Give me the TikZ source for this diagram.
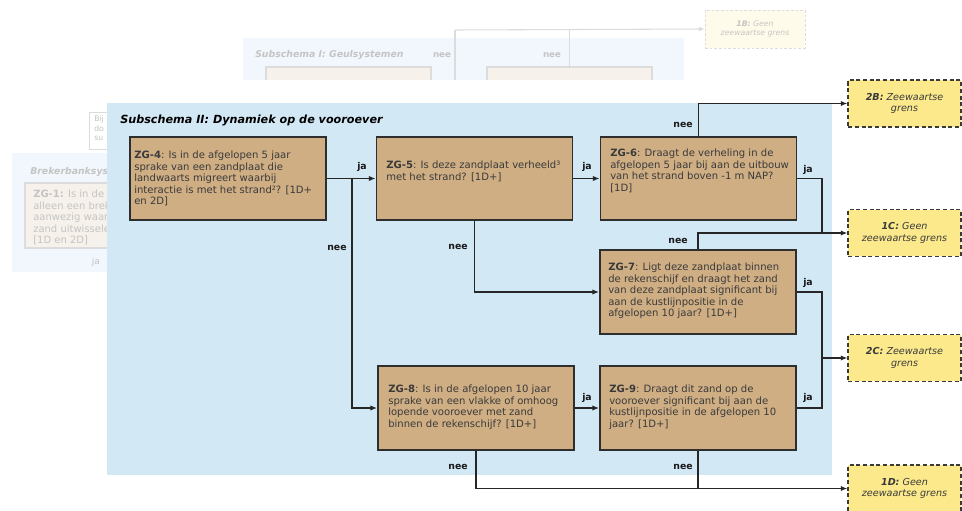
\documentclass[tikz,border=0pt]{standalone}
\usepackage{fontspec}
\setmainfont{DejaVu Sans}
\usetikzlibrary{arrows.meta}
\definecolor{panelblue}{HTML}{D3E8F5}
\definecolor{boxtan}{HTML}{CFAE84}
\definecolor{boxline}{HTML}{2E2E2E}
\definecolor{endyellow}{HTML}{FBE98C}
\definecolor{endline}{HTML}{3A3A3A}
\definecolor{textgray}{HTML}{3A3A3A}
\definecolor{fadeblue}{HTML}{F1F7FC}
\definecolor{fadetan}{HTML}{F6F1EA}
\definecolor{fadeline}{HTML}{DCDCDC}
\definecolor{fadetext}{HTML}{C4C4C4}
\definecolor{fadeyellow}{HTML}{FFFBEA}
\tikzset{
  zg/.style={draw=boxline, fill=boxtan, line width=1.4pt, minimum width=147pt, minimum height=62.5pt, inner sep=0pt},
  zgtext/.style={anchor=north west, inner sep=0pt, align=left, font=\fontsize{7.55}{8.6}\selectfont, text=textgray},
  endbox/.style={draw=endline, dash pattern=on 3pt off 2pt, fill=endyellow, line width=1.1pt, minimum width=84.5pt, minimum height=35pt, inner sep=0pt, align=center, font=\fontsize{7.2}{8.8}\selectfont\itshape, text=textgray},
  lbl/.style={font=\fontsize{7}{8}\selectfont\bfseries, inner sep=0pt, text=black!90},
  conn/.style={line width=1pt, draw=black!85},
  arr/.style={conn, -{Latex[length=5pt,width=4pt]}},
  fadebox/.style={draw=fadeline, fill=fadetan, line width=0.8pt, inner sep=0pt},
  fadetxt/.style={text=fadetext, inner sep=0pt},
  fadeconn/.style={draw=fadeline, line width=0.8pt},
  fadearr/.style={fadeconn, -{Latex[length=4pt,width=3.5pt]}},
  fadeend/.style={draw=fadeline, dash pattern=on 2pt off 1.5pt, fill=fadeyellow, line width=0.7pt, minimum width=75pt, minimum height=28.5pt, inner sep=0pt, align=center, font=\fontsize{5.8}{7}\selectfont\itshape, text=fadetext}
}
\begin{document}
\begin{tikzpicture}[x=0.75pt,y=-0.75pt]
\useasboundingbox (0,0) rectangle (962,510);
\clip (0,0) rectangle (962,510);

% ---------- faded background: Subschema I ----------
\begin{scope}
\clip (0,0) rectangle (962,79);
\fill[fadeblue] (243,38) rectangle (684,100);
\node[fadebox, minimum width=123.75pt, minimum height=30pt] (g1) at (348.5,87) {};
\node[fadebox, minimum width=123.75pt, minimum height=30pt] (g2) at (569.5,87) {};
\coordinate (gbot) at (455,100);
\coordinate (gtop) at (455,30);
\draw[fadeconn] (gbot) -- (gtop);
\draw[fadeconn] (g2.north) -- (g2.north |- gtop);
\end{scope}
\node[fadeend] (e1B) at (755,29) {\textbf{1B:} Geen\\zeewaartse grens};
\draw[fadearr] (gtop) -- (e1B.west);
\node[fadetxt, anchor=west, font=\fontsize{7}{8}\selectfont\bfseries\itshape] (t1) at (255,55) {Subschema I: Geulsystemen};
\node[fadetxt, font=\fontsize{6.5}{8}\selectfont\bfseries] (n1) at (442,55) {nee};
\node[fadetxt, font=\fontsize{6.5}{8}\selectfont\bfseries] (n2) at (552,55) {nee};

% ---------- faded background: left ----------
\fill[white] (89,112) rectangle (130,149);
\draw[fadeline, line width=0.6pt] (89,112) rectangle (130,149);
\node[fadetxt, anchor=north west, align=left, font=\fontsize{5.8}{7.4}\selectfont] (bd) at (94,115) {Bij\\do\\su};
\fill[fadeblue] (12,153) rectangle (130,272);
\node[fadetxt, anchor=west, font=\fontsize{7}{8}\selectfont\bfseries\itshape] (t2) at (30,172) {Brekerbanksystemen};
\node[fadebox, minimum width=78.75pt, minimum height=48.75pt] (zg1) at (77.5,215.5) {};
\node[fadetxt, anchor=north west, align=left, font=\fontsize{7.5}{8.6}\selectfont] (zg1t) at (33,190) {\textbf{ZG-1:} Is in de af\\alleen een breke\\aanwezig waarbij\\zand uitwisselen\\{}[1D en 2D]};
\node[fadetxt, font=\fontsize{6.8}{8}\selectfont] (n3) at (96,262) {ja};

% ---------- main panel ----------
\fill[panelblue] (107,103) rectangle (832,475);
\node[anchor=west, inner sep=0pt, font=\fontsize{8.4}{10}\selectfont\bfseries\itshape] (title) at (120,120) {Subschema II: Dynamiek op de vooroever};

% boxes
\node[zg] (zg4) at (228,178.5) {};
\node[zg] (zg5) at (474.5,178.5) {};
\node[zg] (zg6) at (698.5,178.5) {};
\node[zg, minimum height=63pt] (zg7) at (698,292) {};
\node[zg, minimum height=63pt] (zg8) at (476,408) {};
\node[zg, minimum height=63pt] (zg9) at (698,408) {};

\node[zgtext] (zg4t) at (134,151) {\textbf{ZG-4}: Is in de afgelopen 5 jaar\\sprake van een zandplaat die\\landwaarts migreert waarbij\\interactie is met het strand²? [1D+\\en 2D]};
\node[zgtext] (zg5t) at (386,161) {\textbf{ZG-5}: Is deze zandplaat verheeld³\\met het strand? [1D+]};
\node[zgtext] (zg6t) at (610,149) {\textbf{ZG-6}: Draagt de verheling in de\\afgelopen 5 jaar bij aan de uitbouw\\van het strand boven -1 m NAP?\\{}[1D]};
\node[zgtext] (zg7t) at (608,263) {\textbf{ZG-7}: Ligt deze zandplaat binnen\\de rekenschijf en draagt het zand\\van deze zandplaat significant bij\\aan de kustlijnpositie in de\\afgelopen 10 jaar? [1D+]};
\node[zgtext] (zg8t) at (388,385) {\textbf{ZG-8}: Is in de afgelopen 10 jaar\\sprake van een vlakke of omhoog\\lopende vooroever met zand\\binnen de rekenschijf? [1D+]};
\node[zgtext] (zg9t) at (609,385) {\textbf{ZG-9}: Draagt dit zand op de\\vooroever significant bij aan de\\kustlijnpositie in de afgelopen 10\\jaar? [1D+]};

% end boxes
\node[endbox] (e2B) at (904.5,103.5) {\textbf{2B:} Zeewaartse\\grens};
\node[endbox] (e1C) at (904.5,233) {\textbf{1C:} Geen\\zeewaartse grens};
\node[endbox] (e2C) at (904.5,358) {\textbf{2C:} Zeewaartse\\grens};
\node[endbox] (e1D) at (904.5,488.5) {\textbf{1D:} Geen\\zeewaartse grens};

% junctions
\coordinate (b1) at (352,178.5);
\coordinate (j1) at (822,233);
\coordinate (j2) at (822,358);

% connectors
\draw[arr] (zg4.east) -- (zg5.west);
\draw[arr] (b1) |- (zg8.west);
\draw[arr] (zg5.east) -- (zg6.west);
\draw[arr] (zg5.south) |- (zg7.west);
\draw[arr] (zg6.north) |- (e2B.west);
\draw[conn] (zg6.east) -| (j1);
\draw[arr] (zg7.north) |- (e1C.west);
\draw[conn] (zg7.east) -| (j2);
\draw[conn] (zg9.east) -| (j2);
\draw[arr] (j2) -- (e2C.west);
\draw[arr] (zg8.east) -- (zg9.west);
\draw[arr] (zg8.south) |- (e1D.west);
\draw[conn] (zg9.south) -- (zg9.south |- e1D.west);

% labels
\node[lbl] (l1) at (362,167) {ja};
\node[lbl] (l2) at (337,248) {nee};
\node[lbl] (l3) at (458,247) {nee};
\node[lbl] (l4) at (587,167) {ja};
\node[lbl] (l5) at (683,125) {nee};
\node[lbl] (l6) at (808,170) {ja};
\node[lbl] (l7) at (678,241) {nee};
\node[lbl] (l8) at (808,283) {ja};
\node[lbl] (l9) at (587,398) {ja};
\node[lbl] (l10) at (808,398) {ja};
\node[lbl] (l11) at (458,467) {nee};
\node[lbl] (l12) at (683,467) {nee};
\end{tikzpicture}
\end{document}
